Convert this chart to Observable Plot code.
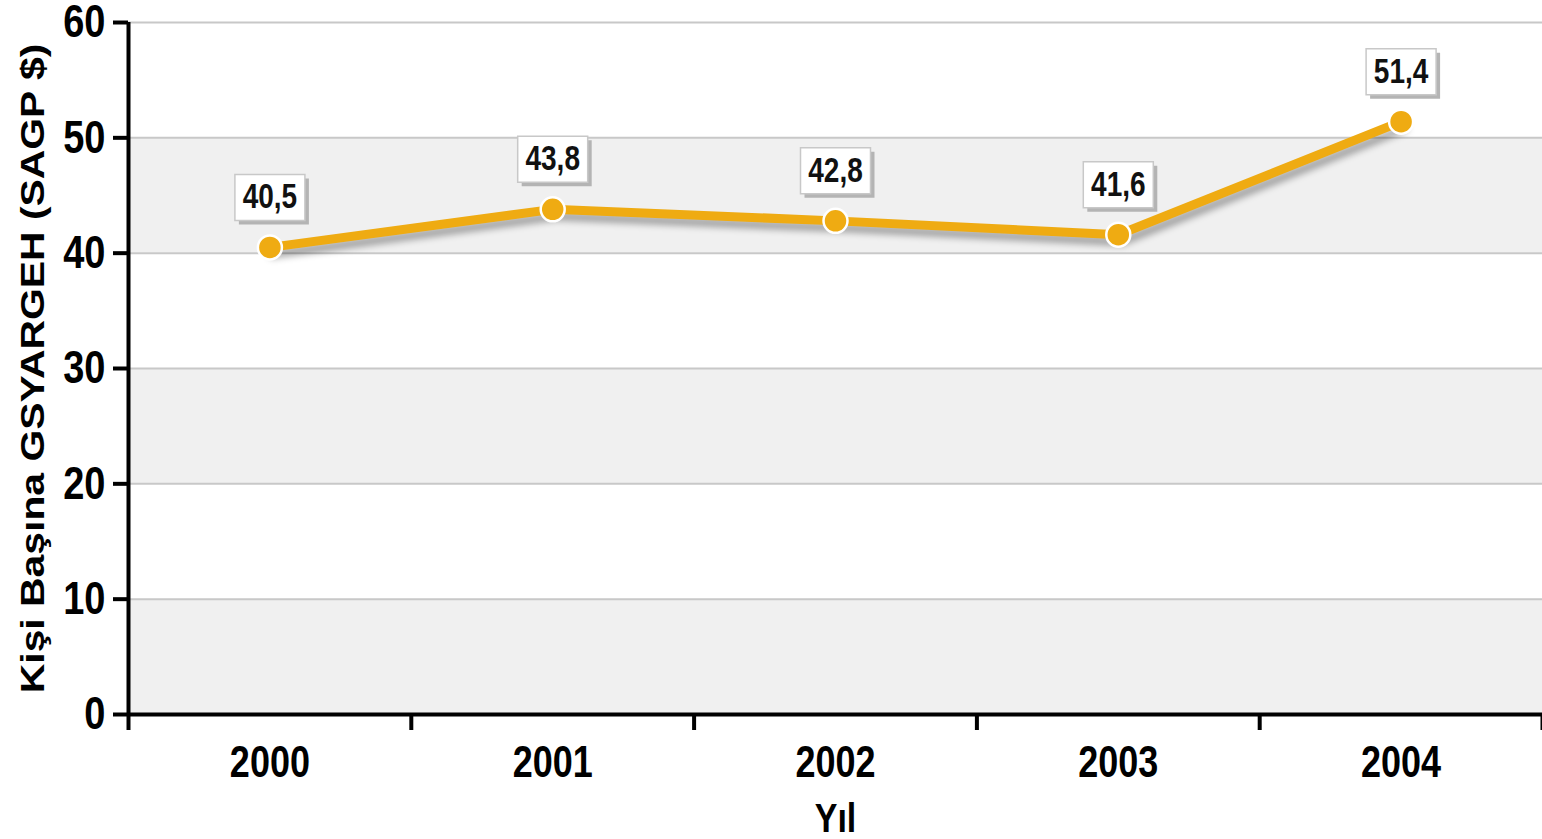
<!DOCTYPE html>
<html><head><meta charset="utf-8">
<script src="https://cdn.jsdelivr.net/npm/d3@7"></script>
<script src="https://cdn.jsdelivr.net/npm/@observablehq/plot@0.6"></script>
<style>body{margin:0;background:#fff}</style>
</head><body><div id="chart"></div>
<script>
const years = [2000, 2001, 2002, 2003, 2004];
const values = [40.5, 43.8, 42.8, 41.6, 51.4];
const labels = ["40,5", "43,8", "42,8", "41,6", "51,4"];
const yTicks = [0, 10, 20, 30, 40, 50, 60];
const shadedBands = [[0, 10], [20, 30], [40, 50]];
const yTitle = "Kişi Başına GSYARGEH (SAGP $)";
const xTitle = "Yıl";

const data = years.map((year, i) => ({year, value: values[i], label: labels[i]}));
const bounds = [years[0] - 0.5, ...years.map(y => y + 0.5)];
const font = "'Liberation Sans Narrow','Arial Narrow','Liberation Sans',Arial,sans-serif";
const box = {draw(ctx) { ctx.rect(-35, -23, 70, 46); }};

const chart = Plot.plot({
  width: 1542, height: 839,
  marginLeft: 128, marginRight: 0, marginTop: 22, marginBottom: 125,
  style: {fontFamily: font, fontWeight: "bold", background: "#fff", color: "#000", overflow: "visible"},
  x: {type: "linear", domain: [bounds[0], bounds[bounds.length - 1]]},
  y: {domain: [0, 60]},
  marks: [
    Plot.rect(shadedBands, {y1: d => d[0], y2: d => d[1], fill: "#f0f0f0"}),
    Plot.ruleY(yTicks.filter(t => t > 0), {stroke: "#c8c8c8", strokeWidth: 2}),
    Plot.line(data, {x: "year", y: "value", dx: 3, dy: 7, stroke: "#000", strokeOpacity: 0.3, strokeWidth: 9, imageFilter: "blur(3px)"}),
    Plot.line(data, {x: "year", y: "value", stroke: "#efab12", strokeWidth: 9}),
    Plot.dot(data, {x: "year", y: "value", r: 12, fill: "#efab12", stroke: "#fff", strokeWidth: 2.5}),
    Plot.dot(data, {x: "year", y: "value", dx: 4, dy: -46, symbol: box, fill: "#b4b4b4", stroke: "none"}),
    Plot.dot(data, {x: "year", y: "value", dy: -50, symbol: box, fill: "#fff", stroke: "#c8c8c8", strokeWidth: 1.5}),
    Plot.text(data, {x: "year", y: "value", dy: -50, text: "label", fontSize: 28, fill: "#111"}),
    Plot.ruleX([bounds[0]], {stroke: "#000", strokeWidth: 4}),
    Plot.ruleY([0], {stroke: "#000", strokeWidth: 4}),
    Plot.axisY({ticks: yTicks, tickSize: 15, tickPadding: 8, strokeWidth: 4, fontSize: 38, label: null}),
    Plot.axisX({ticks: bounds, tickSize: 16, strokeWidth: 4, tickFormat: () => "", label: null}),
    Plot.axisX({ticks: years, tickSize: 0, tickPadding: 31, fontSize: 36, tickFormat: d => String(d), label: null}),
    Plot.text([yTitle], {frameAnchor: "left", rotate: -90, dx: -95, fontSize: 33.5, textAnchor: "middle", lineAnchor: "middle"}),
    Plot.text([xTitle], {frameAnchor: "bottom", dy: 104, fontSize: 34, textAnchor: "middle", lineAnchor: "middle"})
  ]
});
document.getElementById("chart").append(chart);

// The reference lettering is tall and condensed: stretch glyphs vertically about their anchor.
const S = 1.22;
chart.querySelectorAll("text").forEach(t => {
  const tr = t.getAttribute("transform");
  if (tr && tr.includes("rotate")) {
    t.setAttribute("transform", tr + ` scale(${S},1)`);
  } else if (tr) {
    t.setAttribute("transform", tr + ` scale(1,${S})`);
  } else {
    const x = +(t.getAttribute("x") || 0), y = +(t.getAttribute("y") || 0);
    t.setAttribute("transform", `translate(${x},${y}) scale(1,${S}) translate(${-x},${-y})`);
  }
});
</script>
</body></html>
